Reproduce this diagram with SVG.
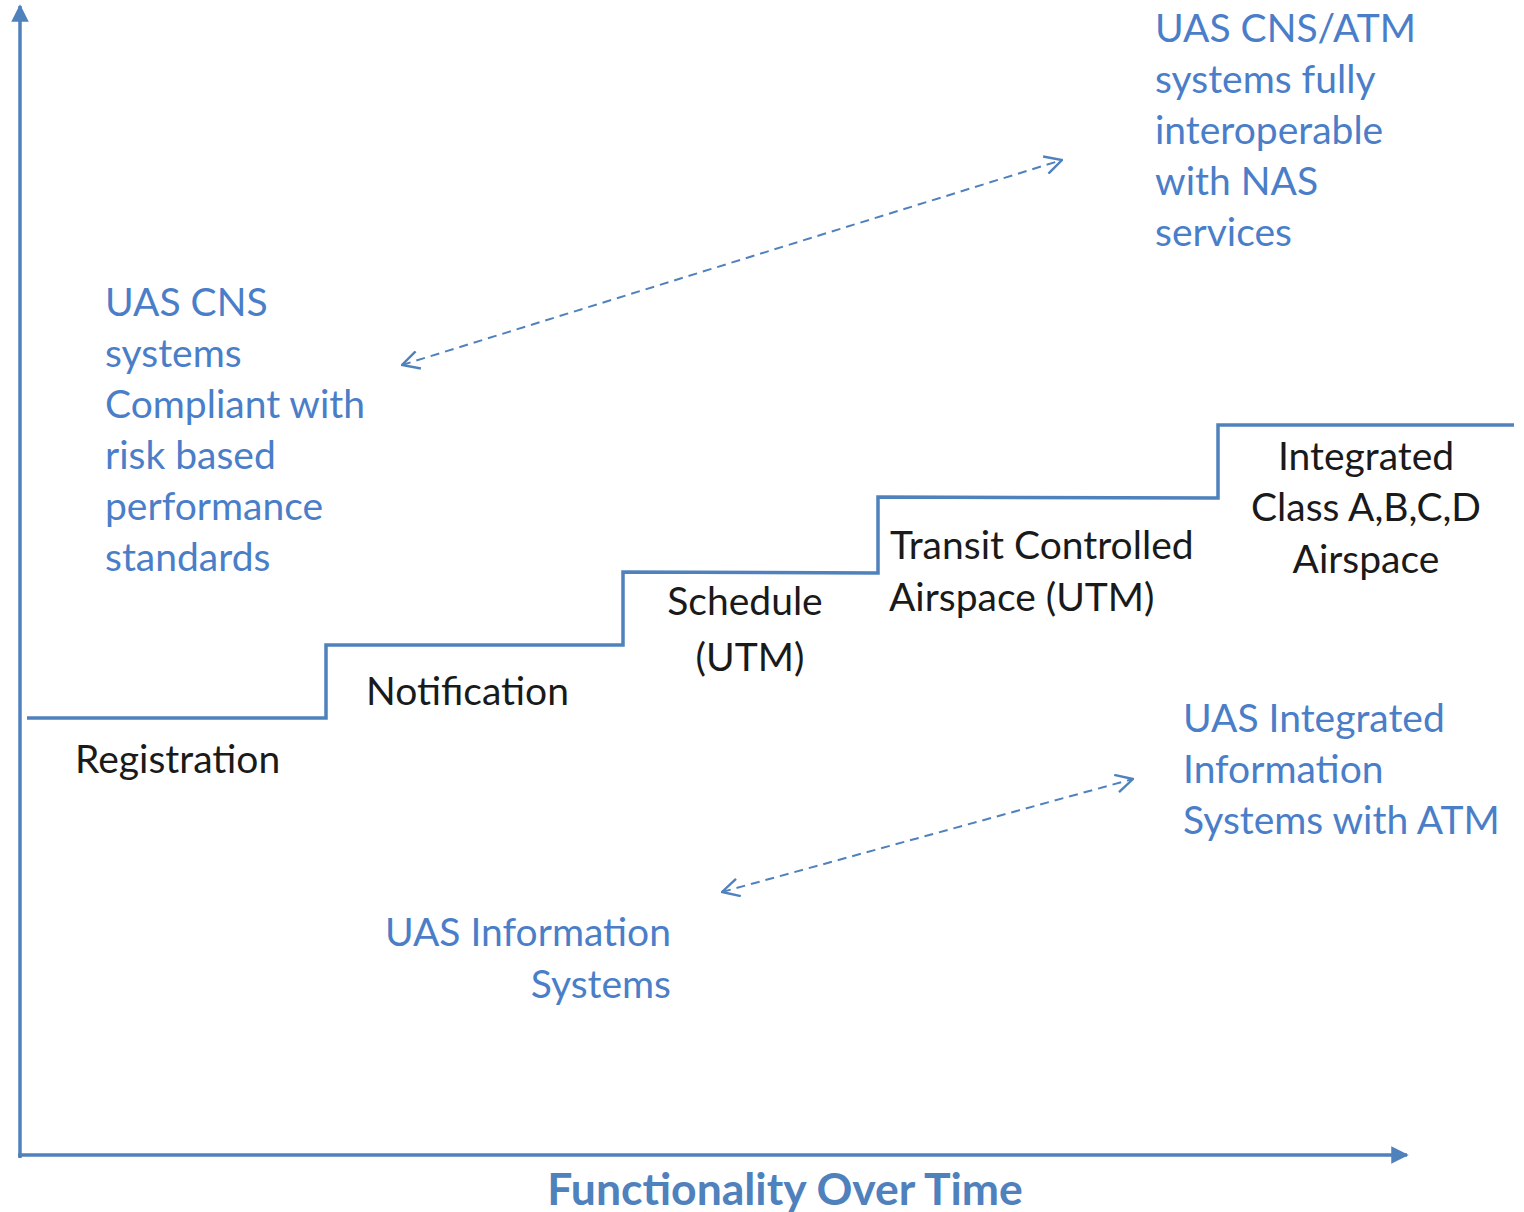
<svg xmlns="http://www.w3.org/2000/svg" width="1524" height="1212" viewBox="0 0 1524 1212">
<defs>
<style>
.blue{font-family:Lato,"Open Sans",sans-serif;font-size:39px;fill:#4A7EC8}
.blk{font-family:Lato,"Open Sans",sans-serif;font-size:39px;fill:#1a1a1a}
.title{font-family:Lato,"Open Sans",sans-serif;font-size:44.5px;font-weight:bold;fill:#4F81BD}
.axis{stroke:#4F81BD;stroke-width:3.5;fill:none}
.step{stroke:#4F81BD;stroke-width:3.5;fill:none;stroke-linejoin:miter}
.dash{stroke:#4F81BD;stroke-width:2;fill:none;stroke-dasharray:9 6}
</style>
<marker id="tri" viewBox="0 0 10 10" refX="9" refY="5" markerWidth="5" markerHeight="5" orient="auto" markerUnits="strokeWidth">
<path d="M0,0 L10,5 L0,10 Z" fill="#4F81BD"/>
</marker>
<marker id="vee" viewBox="0 0 10 10" refX="9.5" refY="5" markerWidth="10" markerHeight="10" orient="auto-start-reverse" markerUnits="strokeWidth">
<path d="M1,0.5 L9.5,5 L1,9.5" fill="none" stroke="#4F81BD" stroke-width="1.2"/>
</marker>
</defs>
<rect width="1524" height="1212" fill="#fff"/>
<g id="connectors">
<line class="axis" x1="20" y1="1158" x2="20" y2="6" marker-end="url(#tri)"/>
<line class="axis" x1="18" y1="1155" x2="1407" y2="1155" marker-end="url(#tri)"/>
<polyline class="step" points="27,718 326,718 326,645 623,645 623,572 878,573 878,497 1218,498 1218,425 1514,425"/>
<line class="dash" x1="402" y1="365" x2="1062" y2="160" marker-start="url(#vee)" marker-end="url(#vee)"/>
<line class="dash" x1="722" y1="892" x2="1133" y2="779" marker-start="url(#vee)" marker-end="url(#vee)"/>
</g>
<g id="cns">
<text class="blue"><tspan x="105" y="316">UAS CNS</tspan><tspan x="105" y="367">systems</tspan><tspan x="105" y="418">Compliant with</tspan><tspan x="105" y="469">risk based</tspan><tspan x="105" y="520">performance</tspan><tspan x="105" y="571">standards</tspan></text>
</g>
<g id="cnsatm">
<text class="blue"><tspan x="1155" y="42">UAS CNS/ATM</tspan><tspan x="1155" y="93">systems fully</tspan><tspan x="1155" y="144">interoperable</tspan><tspan x="1155" y="195">with NAS</tspan><tspan x="1155" y="246">services</tspan></text>
</g>
<g id="integrated-info">
<text class="blue"><tspan x="1183" y="732">UAS Integrated</tspan><tspan x="1183" y="783">Information</tspan><tspan x="1183" y="834">Systems with ATM</tspan></text>
</g>
<g id="info">
<text class="blue" text-anchor="end"><tspan x="671" y="946">UAS Information</tspan><tspan x="671" y="998">Systems</tspan></text>
</g>
<g id="registration"><text class="blk" x="75" y="773">Registration</text></g>
<g id="notification"><text class="blk" x="366" y="705">Notification</text></g>
<g id="schedule"><text class="blk" text-anchor="middle"><tspan x="745" y="615">Schedule</tspan><tspan x="750" y="671">(UTM)</tspan></text></g>
<g id="transit"><text class="blk"><tspan x="890" y="559">Transit Controlled</tspan><tspan x="889" y="611">Airspace (UTM)</tspan></text></g>
<g id="integrated"><text class="blk" text-anchor="middle"><tspan x="1366" y="470">Integrated</tspan><tspan x="1366" y="521">Class A,B,C,D</tspan><tspan x="1366" y="573">Airspace</tspan></text></g>
<g id="title"><text class="title" x="785" y="1205" text-anchor="middle">Functionality Over Time</text></g>
</svg>
